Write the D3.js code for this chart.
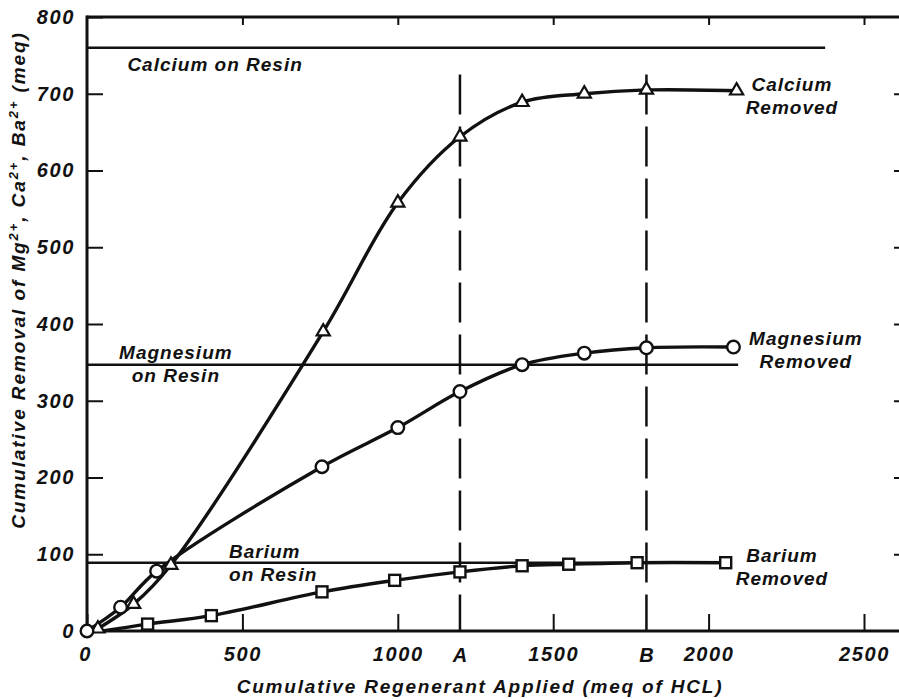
<!DOCTYPE html>
<html>
<head>
<meta charset="utf-8">
<script src="https://cdn.jsdelivr.net/npm/d3@7"></script>
<style>
  body { margin: 0; background: #fff; }
  svg { display: block; background: #fff; }
  text { font-family: 'Liberation Sans', Arial, sans-serif; font-style: italic; fill: #111; }
</style>
</head>
<body>
<svg></svg>
<script>
// axis ticks
const xTickValues = [0, 500, 1000, 1500, 2000, 2500];
const yTickValues = [0, 100, 200, 300, 400, 500, 600, 700, 800];
const refNames = ['A', 'B'];
const refValues = [1200, 1800];

// cumulative removal curves [regenerant, removed]
const calcium = [[35, 3], [150, 35], [270, 86], [760, 390], [1000, 558], [1200, 644],
  [1400, 689], [1600, 700], [1800, 705], [2090, 704]];
const magnesium = [[0, 0], [108, 31], [224, 78], [756, 214], [1000, 265], [1200, 312],
  [1400, 347], [1600, 362], [1800, 369], [2080, 370]];
const bariumStart = [50, 0];
const barium = [[195, 9], [400, 20], [756, 51], [990, 66], [1200, 77], [1400, 85],
  [1550, 87], [1770, 89], [2055, 89]];

// amount on resin [level, end of line]
const resinNames = ['Calcium', 'Magnesium', 'Barium'];
const resinLevels = [760, 347, 89];
const resinEnds = [2375, 2095, 2055];

const width = 899;
const height = 699;
const ink = '#111';

const x = d3.scaleLinear()
  .domain([0, 2500])
  .range([87, 864]);

const y = d3.scaleLinear()
  .domain([0, 800])
  .range([631, 17]);

const svg = d3.select('svg')
  .attr('width', width)
  .attr('height', height);

// frame
const frame = svg.append('g')
  .attr('stroke', ink)
  .attr('stroke-width', 3)
  .attr('fill', 'none');
frame.append('line').attr('x1', x(0)).attr('x2', x(0)).attr('y1', y(800) - 1.5).attr('y2', y(0) + 1.5);
frame.append('line').attr('x1', x(0)).attr('x2', width).attr('y1', y(0)).attr('y2', y(0));
frame.append('line').attr('x1', x(0)).attr('x2', width).attr('y1', y(800)).attr('y2', y(800));

// left axis
const leftAxis = svg.append('g')
  .attr('transform', `translate(${x(0)},0)`)
  .call(d3.axisLeft(y).tickValues(yTickValues).tickFormat(d3.format('d'))
    .tickSizeInner(-16).tickSizeOuter(0).tickPadding(12));

// right ticks (frame edge is just outside the picture)
const rightAxis = svg.append('g')
  .attr('transform', `translate(${width + 4},0)`)
  .call(d3.axisLeft(y).tickValues(yTickValues.slice(1, -1)).tickSize(9).tickFormat(''));

// bottom axis
const bottomAxis = svg.append('g')
  .attr('transform', `translate(0,${y(0)})`)
  .call(d3.axisBottom(x).tickValues(xTickValues).tickFormat(d3.format('d'))
    .tickSizeInner(-17).tickSizeOuter(0).tickPadding(16));

// top ticks
const topAxis = svg.append('g')
  .attr('transform', `translate(0,${y(800)})`)
  .call(d3.axisTop(x).tickValues(xTickValues.slice(1)).tickSize(-8).tickFormat(''));

[leftAxis, rightAxis, bottomAxis, topAxis].forEach((g) => {
  g.select('.domain').remove();
  g.selectAll('line').attr('stroke', ink).attr('stroke-width', 2);
});

svg.selectAll('.tick text')
  .attr('fill', ink)
  .style('font-size', '20px')
  .style('font-weight', 'bold')
  .style('letter-spacing', '1.6px')
  .style('font-family', "'Liberation Sans', Arial, sans-serif");

bottomAxis.selectAll('.tick text').attr('dx', (d) => (d === 0 ? -2 : 0));

// A / B reference lines
svg.append('g')
  .selectAll('line')
  .data(refValues)
  .enter()
  .append('line')
    .attr('x1', (d) => x(d))
    .attr('x2', (d) => x(d))
    .attr('y1', y(725))
    .attr('y2', y(0))
    .attr('stroke', ink)
    .attr('stroke-width', 2.5)
    .attr('stroke-dasharray', '40,12');

svg.append('g')
  .selectAll('text')
  .data(refValues)
  .enter()
  .append('text')
    .attr('x', (d) => x(d))
    .attr('y', y(0) + 31)
    .attr('text-anchor', 'middle')
    .style('font-size', '20px')
    .style('font-weight', 'bold')
    .text((d, i) => refNames[i]);

// resin lines
svg.append('g')
  .selectAll('line')
  .data(resinLevels)
  .enter()
  .append('line')
    .attr('x1', x(0))
    .attr('x2', (d, i) => x(resinEnds[i]))
    .attr('y1', (d) => y(d))
    .attr('y2', (d) => y(d))
    .attr('stroke', ink)
    .attr('stroke-width', 2.6);

// curves
const line = d3.line()
  .x((d) => x(d[0]))
  .y((d) => y(d[1]))
  .curve(d3.curveCatmullRom.alpha(0.5));

[calcium, magnesium, [bariumStart].concat(barium)].forEach((series) => {
  svg.append('path')
    .datum(series)
    .attr('d', line)
    .attr('fill', 'none')
    .attr('stroke', ink)
    .attr('stroke-width', 3.4);
});

// markers
svg.append('g')
  .selectAll('path')
  .data(calcium)
  .enter()
  .append('path')
    .attr('transform', (d) => `translate(${x(d[0])},${y(d[1])})`)
    .attr('d', d3.symbol(d3.symbolTriangle, 75))
    .attr('fill', '#fff')
    .attr('stroke', ink)
    .attr('stroke-width', 2.2);

svg.append('g')
  .selectAll('circle')
  .data(magnesium)
  .enter()
  .append('circle')
    .attr('cx', (d) => x(d[0]))
    .attr('cy', (d) => y(d[1]))
    .attr('r', 6.3)
    .attr('fill', '#fff')
    .attr('stroke', ink)
    .attr('stroke-width', 2.4);

svg.append('g')
  .selectAll('rect')
  .data(barium)
  .enter()
  .append('rect')
    .attr('x', (d) => x(d[0]) - 5.5)
    .attr('y', (d) => y(d[1]) - 5.5)
    .attr('width', 11)
    .attr('height', 11)
    .attr('fill', '#fff')
    .attr('stroke', ink)
    .attr('stroke-width', 2.4);

// annotations
function label(lines, xv, yv, anchor) {
  const t = svg.append('text')
    .attr('x', x(xv))
    .attr('y', y(yv))
    .attr('text-anchor', anchor)
    .style('font-size', '19px')
    .style('font-weight', 'bold')
    .style('letter-spacing', '1px');
  lines.forEach((s, i) => {
    t.append('tspan')
      .attr('x', x(xv))
      .attr('dy', i === 0 ? 0 : 23)
      .text(s);
  });
}

label([resinNames[0] + ' on Resin'], 130, 730, 'start');
label([resinNames[1], 'on Resin'], 286, 354, 'middle');
label([resinNames[2], 'on Resin'], 457, 95, 'start');
label([resinNames[0], 'Removed'], 2268, 703, 'middle');
label([resinNames[1], 'Removed'], 2313, 372, 'middle');
label([resinNames[2], 'Removed'], 2236, 90, 'middle');

// axis titles
svg.append('text')
  .attr('x', 480)
  .attr('y', 693)
  .attr('text-anchor', 'middle')
  .style('font-size', '19px')
  .style('font-weight', 'bold')
  .style('letter-spacing', '1.8px')
  .text('Cumulative Regenerant Applied (meq of HCL)');

const yTitle = svg.append('text')
  .attr('transform', 'translate(25,280) rotate(-90)')
  .attr('text-anchor', 'middle')
  .style('font-size', '19px')
  .style('font-weight', 'bold')
  .style('letter-spacing', '1.9px');
yTitle.append('tspan').text('Cumulative Removal of Mg');
yTitle.append('tspan').attr('dy', -7).style('font-size', '13px').text('2+');
yTitle.append('tspan').attr('dy', 7).text(', Ca');
yTitle.append('tspan').attr('dy', -7).style('font-size', '13px').text('2+');
yTitle.append('tspan').attr('dy', 7).text(', Ba');
yTitle.append('tspan').attr('dy', -7).style('font-size', '13px').text('2+');
yTitle.append('tspan').attr('dy', 7).text(' (meq)');
</script>
</body>
</html>
